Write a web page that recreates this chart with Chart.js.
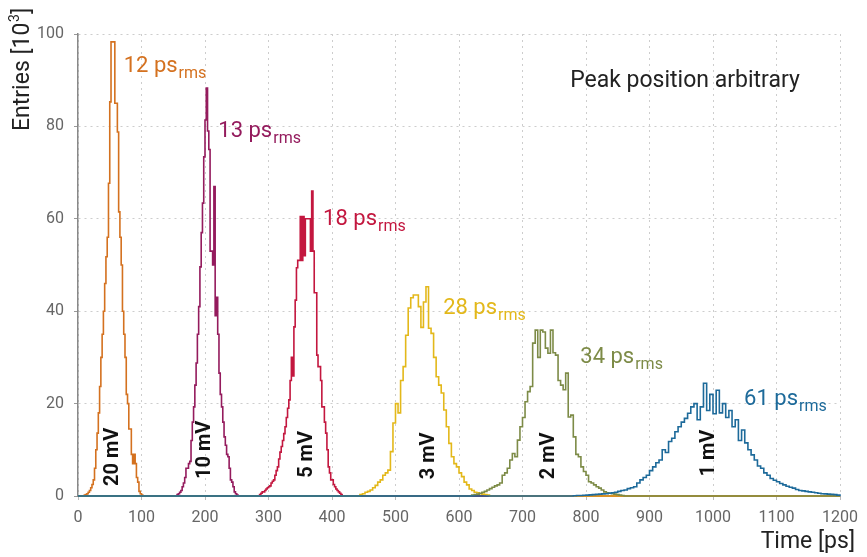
<!DOCTYPE html>
<html>
<head>
<meta charset="utf-8">
<script src="https://cdn.jsdelivr.net/npm/chart.js@4.4.0/dist/chart.umd.min.js"></script>
<style>
  body{margin:0;background:#fff;}
  #wrap{width:867px;height:557px;position:relative;}
</style>
</head>
<body>
<div id="wrap"><canvas id="timingChart"></canvas></div>
<script>
// bin contents in 10^3 entries
var amplitudes = ['20 mV','10 mV','5 mV','3 mV','2 mV','1 mV']
var resolutions = [12,13,18,28,34,61]          // ps rms
var binStarts = [10,156,286,444,620,780]        // ps, left edge of first bin
var binWidths = [2,2,2,4,4,5]                   // ps
var timeRange = [0,1200]
var entriesRange = [0,100]
var timeStep = 100
var entriesStep = 20

var counts20mV = [0.2,0.3,0.5,0.8,1.2,1.8,2.5,3.5,6,10,13.6,18,23.7,30,35,40,46,51.8,56,67.7,
  85.3,98.3,98.3,98.3,85,85,78.8,61.5,56,50,40,35,30,22,20,14.5,14.5,9,7,9,7,4,3,1,0.5,0.2]
var counts10mV = [0.3,0.5,0.8,1.2,2,2.8,4,6,6,7,7.5,12,16,19.3,24,28.8,35,41,49.6,57,
  63.4,73.4,81.4,88.3,79,75,53,53,50,67,39,43,35,26.6,22,19.3,16,12.8,11,9,8.5,6,3.5,3,2,0.9,0.5,0.2]
var counts5mV = [0.3,0.6,0.9,0.9,1.2,1.5,1.8,2,2.2,2.8,3.2,3.5,4.5,5.5,6.3,8,9.5,10.7,12,13.5,
  15,17,19,20.8,25,30,26,36.6,42.4,49.4,51,51,60.5,51,60.5,52,60,60,60,60,
  53,66,53,44,44,30.5,28,28,25,19.3,19.3,16,13.6,10,6.3,5,3.5,3.5,2.5,2,1.5,1.2,0.9,0.6,0.3]
var counts3mV = [0.3,0.5,0.8,1,1.3,1.8,2.3,3,3.5,4.5,5,5.6,9.6,15.8,20,18,25,28,34.8,40.7,
  42.9,43.5,43.5,41,36.5,42,45.3,36.3,35.2,30,25.8,24,22.3,18.6,15,11.4,8.5,7,6.3,5,
  4.2,3,2.4,1.5,1.2,0.8,0.7,0.5,0.4,0.3,0.2]
var counts2mV = [0.2,0.3,0.4,0.6,0.8,1,1.3,1.6,1.9,2.2,2.4,2.8,4.5,5,6,7.8,9.2,8.5,12.1,15,
  17,20.4,22.6,23.7,33.1,35.9,30,35.9,35.5,32,30.9,35.9,31,30.5,25,24,23,26.6,17.1,17.5,
  12.8,9,8.5,6.3,5.3,4.5,3.1,2.8,2.4,2,1.7,1.3,0.9,0.7,0.6,0.5,0.4,0.3,0.2,0.1]
var counts1mV = [0.05,0.1,0.1,0.15,0.2,0.25,0.3,0.35,0.4,0.45,0.5,0.6,0.7,0.8,1,1.2,1.3,1.6,1.8,2,
  2.8,3.5,4,4.5,5.5,6.3,7.2,7.8,10,9.4,11.8,12.5,13.9,15,16,16.8,17.9,19.3,20,16.5,
  19.3,24.4,18.5,22,17.8,22.9,18,20,17,18.5,15,16.5,12,14.3,11.5,10,8.9,7.8,6.5,6,
  5,4.5,3.8,3.4,3.1,2.7,2.4,2.1,1.9,1.7,1.4,1.2,1.1,1,0.9,0.8,0.7,0.6,0.5,0.45,
  0.4,0.35,0.3,0.2]

var allCounts = [counts20mV,counts10mV,counts5mV,counts3mV,counts2mV,counts1mV]
var colors = ['#d4711f','#941b5d','#c3173f','#e3b81a','#7d8b47','#1d6a9a']

// label anchors in data units (ps, 10^3 entries)
var rmsLabelAt = [[72,91.8],[221,77.7],[386,58.7],[575,39.5],[791,28.7],[1049,19.7]]
var mvLabelAt = [[55,8.5],[200,10],[360,9],[552,8.7],[741,8.7],[993,9.3]]
var noteAt = [775,88.5]

var FONT = "Roboto, 'DejaVu Sans', sans-serif"
Chart.defaults.font.family = FONT

var datasets = allCounts.map(function(c, i){
    var pts = [{x:timeRange[0], y:0}]
    for(var k=0; k<c.length; k++){
        pts.push({x:binStarts[i]+k*binWidths[i], y:c[k]})
    }
    pts.push({x:binStarts[i]+c.length*binWidths[i], y:0})
    pts.push({x:timeRange[1], y:0})
    return {
        label:amplitudes[i], data:pts,
        borderColor:colors[i], borderWidth:1.6,
        pointRadius:0, stepped:true, fill:false, clip:false,
        order:allCounts.length-1-i
    }
})

var labelPlugin = {
    id:'peakLabels',
    afterDatasetsDraw:function(chart){
        var ctx = chart.ctx, xs = chart.scales.x, ys = chart.scales.y, area = chart.chartArea
        ctx.save()
        for(var i=0; i<amplitudes.length; i++){
            var px = xs.getPixelForValue(rmsLabelAt[i][0])
            var py = ys.getPixelForValue(rmsLabelAt[i][1])
            var main = resolutions[i] + ' ps'
            ctx.fillStyle = colors[i]
            ctx.textAlign = 'left'
            ctx.textBaseline = 'alphabetic'
            ctx.font = "22px " + FONT
            ctx.fillText(main, px, py)
            var w = ctx.measureText(main).width
            ctx.font = "16px " + FONT
            ctx.fillText('rms', px + w + 1, py + 6)

            ctx.save()
            ctx.translate(xs.getPixelForValue(mvLabelAt[i][0]), ys.getPixelForValue(mvLabelAt[i][1]))
            ctx.rotate(-Math.PI/2)
            ctx.fillStyle = '#111'
            ctx.font = "bold 20px " + FONT
            ctx.textAlign = 'center'
            ctx.textBaseline = 'middle'
            ctx.fillText(amplitudes[i], 0, 0)
            ctx.restore()
        }

        // note
        ctx.fillStyle = '#222'
        ctx.font = "23px " + FONT
        ctx.textAlign = 'left'
        ctx.textBaseline = 'alphabetic'
        ctx.fillText('Peak position arbitrary', xs.getPixelForValue(noteAt[0]), ys.getPixelForValue(noteAt[1]))

        // x title
        ctx.textAlign = 'right'
        ctx.fillText('Time [ps]', area.right + 15, area.bottom + 52)

        // y title with superscript
        ctx.save()
        ctx.translate(area.left - 55, area.top + 97)
        ctx.rotate(-Math.PI/2)
        ctx.textAlign = 'left'
        ctx.textBaseline = 'middle'
        var t1 = 'Entries [10'
        ctx.fillText(t1, 0, 0)
        var w1 = ctx.measureText(t1).width
        ctx.font = "14px " + FONT
        ctx.fillText('3', w1 + 0.5, -8)
        var w2 = ctx.measureText('3').width
        ctx.font = "23px " + FONT
        ctx.fillText(']', w1 + w2 + 1, 0)
        ctx.restore()

        ctx.restore()
    }
}

var timingChart = new Chart(document.getElementById('timingChart'), {
    type:'line',
    data:{ datasets:datasets },
    options:{
        responsive:true,
        maintainAspectRatio:false,
        animation:false,
        layout:{ padding:{ top:34, right:27, left:0, bottom:0 } },
        plugins:{ legend:{display:false}, tooltip:{enabled:false} },
        scales:{
            x:{
                type:'linear', min:timeRange[0], max:timeRange[1],
                ticks:{ stepSize:timeStep, color:'#666', font:{size:16}, padding:8, maxRotation:0,
                    callback:function(v){ return String(v) } },
                grid:{ color:'#cdcdcd', lineWidth:1, tickLength:4, tickColor:'#bbb' },
                border:{ display:true, color:'#999', width:1, dash:[2,4] },
                afterFit:function(s){ s.height = 61 }
            },
            y:{
                min:entriesRange[0], max:entriesRange[1],
                ticks:{ stepSize:entriesStep, color:'#666', font:{size:16}, padding:10,
                    callback:function(v){ return String(v) } },
                grid:{ color:'#cdcdcd', lineWidth:1, tickLength:4, tickColor:'#999' },
                border:{ display:true, color:'#888', width:1.5, dash:[2,4] },
                afterFit:function(s){ s.width = 78 }
            }
        }
    },
    plugins:[labelPlugin]
})
</script>
</body>
</html>
